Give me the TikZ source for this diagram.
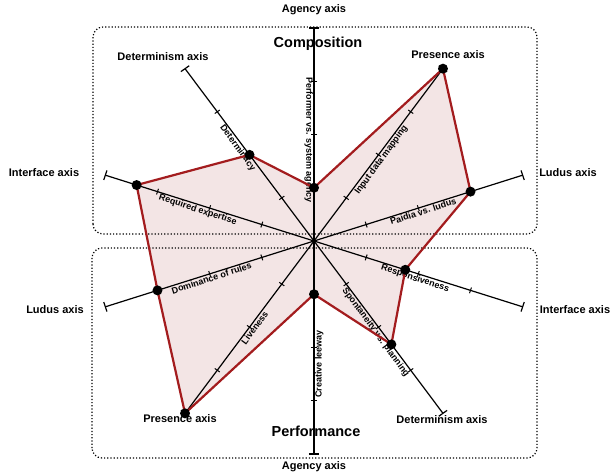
\documentclass[tikz,border=0pt]{standalone}
\usepackage{fontspec}
\setmainfont{Liberation Sans}
\definecolor{polyred}{RGB}{163,28,30}
\definecolor{polyfill}{RGB}{243,229,229}

\begin{document}
\begin{tikzpicture}[x=1pt,y=1pt,
	axis label/.style={font=\bfseries\fontsize{11}{13}\selectfont},
	small label/.style={font=\bfseries\fontsize{9}{10}\selectfont,inner sep=1pt,anchor=north},
	group label/.style={font=\bfseries\fontsize{14.5}{16}\selectfont},
	dot/.style={circle,fill=black,inner sep=0pt,minimum size=10pt},
	region/.style={draw,dotted,line width=1.2pt,rounded corners=10pt}]
	\useasboundingbox (-314,-235) rectangle (296,241);

	% group titles (under the axes)
	\node[group label] (Composition) at (4,197) {Composition};
	\node[group label] (Performance) at (2,-190) {Performance};

	\begin{scope}[xscale=1.03]
		\coordinate (o) at (0,0);
		% values on the ten half axes
		\foreach \a/\v in {90/1,54/4,18/3,342/1.75,306/2.4,270/1,234/4,198/3,162/3.4,126/2}
			\coordinate (v\a) at (\a:\v*53.25);

		\fill[polyfill] (v90) -- (v54) -- (v18) -- (v342) -- (v306) -- (v270) -- (v234) -- (v198) -- (v162) -- (v126) -- cycle;
	\end{scope}

	% composition and performance regions
	\draw[region] (-221,7) rectangle (223,214);
	\draw[region] (-222,-217) rectangle (223,-7);

	\begin{scope}[xscale=1.03]
		\foreach \a/\r/\d/\txt in {90/-90/101/Performer vs. system agency,54/54/104/Input data mapping,
				18/18/110/Paidia vs. ludus,342/342/105/Responsiveness,306/306/109/Spontaneity vs. planning,
				270/90/123/Creative leeway,234/54/104/Liveness,198/18/106/Dominance of rules,
				162/-18/117/Required expertise,126/-54/119/Determinacy}{
			\coordinate (e\a) at (\a:213);
			\draw[line width=1.2pt] (o) -- (e\a);
			\foreach \t in {1,2,3}
				\draw[line width=1pt,rotate=\a] (\t*53.25,-3) -- (\t*53.25,3);
			\draw[line width=1.2pt,rotate=\a] (213,-5) -- (213,5);
			\node[small label,rotate=\r] (l\a) at (\a:\d) {\txt};
		}
		\draw[line width=1.8pt] (e270) -- (e90);

		\draw[polyred,line width=2.2pt,line join=round] (v90) -- (v54) -- (v18) -- (v342) -- (v306) -- (v270) -- (v234) -- (v198) -- (v162) -- (v126) -- cycle;
		\foreach \a in {90,54,18,342,306,270,234,198,162,126}
			\node[dot] (d\a) at (v\a) {};
	\end{scope}

	% axis names
	\node[axis label] (AgencyTop)       at (0,231)     {Agency axis};
	\node[axis label] (AgencyBottom)    at (0,-226)    {Agency axis};
	\node[axis label] (DeterminismTop)  at (-151,184)  {Determinism axis};
	\node[axis label] (PresenceTop)     at (134,186)   {Presence axis};
	\node[axis label] (InterfaceLeft)   at (-270,68)   {Interface axis};
	\node[axis label] (LudusRight)      at (254,68)    {Ludus axis};
	\node[axis label] (LudusLeft)       at (-259,-69)  {Ludus axis};
	\node[axis label] (InterfaceRight)  at (261,-69)   {Interface axis};
	\node[axis label] (PresenceBottom)  at (-134,-178) {Presence axis};
	\node[axis label] (DeterminismBottom) at (128,-179) {Determinism axis};
\end{tikzpicture}
\end{document}
